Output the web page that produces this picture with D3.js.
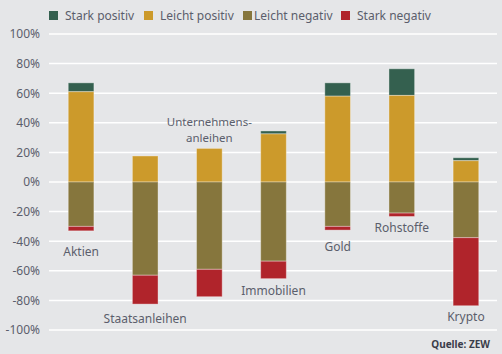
<!DOCTYPE html>
<html>
<head>
<meta charset="utf-8">
<script src="https://d3js.org/d3.v7.min.js"></script>
<style>
  body { margin: 0; background: #e5e6e8; }
  text { font-family: "Noto Sans", sans-serif; }
</style>
</head>
<body>
<div id="chart"></div>
<script>
  // data (percent of answers)
  var categories = ["Aktien", "Staatsanleihen", "Unternehmensanleihen", "Immobilien", "Gold", "Rohstoffe", "Krypto"];
  var starkPositiv  = [6, 0, 0, 2, 9, 18, 2];
  var leichtPositiv = [61, 17.6, 22.7, 32.5, 58, 58.5, 14.4];
  var leichtNegativ = [30, 63, 59, 53.5, 30, 21, 37.6];
  var starkNegativ  = [3, 19.5, 18.5, 11.8, 2.5, 2.3, 46];
  var seriesNames = ["Stark positiv", "Leicht positiv", "Leicht negativ", "Stark negativ"];
  var yTicks = [100, 80, 60, 40, 20, 0, -20, -40, -60, -80, -100];

  var colors = ["#34604f", "#cc9a2b", "#86763d", "#b0242b"];
  // label distance below the bar (px), Unternehmensanleihen sits above
  var labelGap = [21, 15, 0, 12, 17, 12, 11];

  var W = 502, H = 354;
  var svg = d3.select("#chart").append("svg")
    .attr("width", W).attr("height", H);

  svg.append("rect").attr("width", W).attr("height", H).attr("fill", "#e5e6e8");

  var x = d3.scaleBand()
    .domain(categories)
    .range([49, 498])
    .paddingInner(0.6)
    .paddingOuter(0.3);

  var y = d3.scaleLinear()
    .domain([-100, 100])
    .range([330, 34]);

  // grid
  svg.append("g").selectAll("line")
    .data(yTicks)
    .enter().append("line")
      .attr("x1", 49).attr("x2", 497)
      .attr("y1", function(d) { return y(d); })
      .attr("y2", function(d) { return y(d); })
      .attr("stroke", "#ffffff")
      .attr("stroke-width", 1.5);

  // y axis labels
  var yAxis = svg.append("g")
    .attr("transform", "translate(49,0)")
    .call(d3.axisLeft(y).tickValues(yTicks).tickSize(0).tickPadding(9)
      .tickFormat(function(d) { return d + "%"; }));
  yAxis.select(".domain").remove();
  yAxis.selectAll("text")
    .style("font-family", "Noto Sans, sans-serif")
    .style("font-size", "12px")
    .attr("fill", "#5b5e6c");

  // stacked segments
  var rows = categories.map(function(c, i) {
    return [
      { c: c, y0: leichtPositiv[i], y1: leichtPositiv[i] + starkPositiv[i], s: 0 },
      { c: c, y0: 0, y1: leichtPositiv[i], s: 1 },
      { c: c, y0: 0, y1: -leichtNegativ[i], s: 2 },
      { c: c, y0: -leichtNegativ[i], y1: -leichtNegativ[i] - starkNegativ[i], s: 3 }
    ];
  });
  var segs = [].concat.apply([], rows).filter(function(d) { return d.y0 != d.y1; });

  svg.append("g").selectAll("rect")
    .data(segs)
    .enter().append("rect")
      .attr("x", function(d) { return x(d.c); })
      .attr("width", x.bandwidth())
      .attr("y", function(d) { return y(Math.max(d.y0, d.y1)); })
      .attr("height", function(d) { return Math.abs(y(d.y0) - y(d.y1)); })
      .attr("fill", function(d) { return colors[d.s]; })
      .attr("stroke", "rgba(255,255,255,0.35)")
      .attr("stroke-width", 1);

  // category labels
  var lab = svg.append("g")
    .style("font-size", "12px")
    .attr("fill", "#5b5e6c")
    .attr("text-anchor", "middle");
  categories.forEach(function(c, i) {
    var cx = x(c) + x.bandwidth() / 2;
    if (c == "Unternehmensanleihen") {
      var top = y(leichtPositiv[i] + starkPositiv[i]);
      lab.append("text").attr("x", cx).attr("y", top - 22).style("font-size", "11.5px").text("Unternehmens-");
      lab.append("text").attr("x", cx).attr("y", top - 6).style("font-size", "11.5px").text("anleihen");
    } else {
      var bottom = y(-leichtNegativ[i] - starkNegativ[i]);
      lab.append("text").attr("x", cx).attr("y", bottom + labelGap[i] + 4).text(c);
    }
  });

  // legend
  var legX = [49, 144, 243, 341];
  var leg = svg.append("g").selectAll("g")
    .data(seriesNames)
    .enter().append("g")
      .attr("transform", function(d, i) { return "translate(" + legX[i] + ",11)"; });
  leg.append("rect").attr("width", 9).attr("height", 9)
    .attr("fill", function(d, i) { return colors[i]; });
  leg.append("text")
    .attr("x", function(d, i) { return i == 2 ? 11 : 16; })
    .attr("y", 8.5)
    .style("font-size", "12px")
    .attr("fill", "#5b5e6c")
    .text(function(d) { return d; });

  // source
  svg.append("text")
    .attr("x", 490).attr("y", 348)
    .attr("text-anchor", "end")
    .style("font-size", "10px")
    .style("font-weight", "bold")
    .attr("fill", "#3a3d4a")
    .text("Quelle: ZEW");
</script>
</body>
</html>
